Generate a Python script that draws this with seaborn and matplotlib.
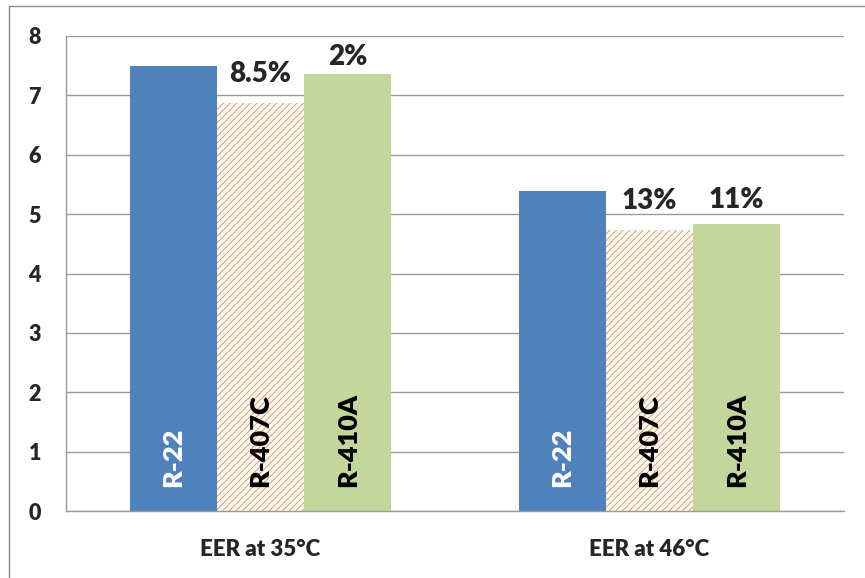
import matplotlib
matplotlib.use("Agg")
import matplotlib.pyplot as plt
from matplotlib.patches import Rectangle
import seaborn as sns
import pandas as pd

# EER of three refrigerants at two outdoor temperatures
conditions = ["EER at 35°C", "EER at 46°C"]
refrigerants = ["R-22", "R-407C", "R-410A"]
eer_r22 = [7.50, 5.39]
eer_r407c = [6.87, 4.74]
eer_r410a = [7.36, 4.83]

# drop relative to R-22, printed above the alternative refrigerants
drop_r407c = ["8.5%", "13%"]
drop_r410a = ["2%", "11%"]

y_ticks = [0, 1, 2, 3, 4, 5, 6, 7, 8]

df = pd.DataFrame({
    "condition": conditions * 3,
    "refrigerant": [r for r in refrigerants for _ in conditions],
    "eer": eer_r22 + eer_r407c + eer_r410a,
})

sns.set_style("white")
plt.rcParams["font.family"] = ["Lato", "DejaVu Sans"]
plt.rcParams["hatch.linewidth"] = 0.6

grey = "#9a9a9a"
palette = {"R-22": "#4f81bd", "R-407C": "#fef7ef", "R-410A": "#c3d69b"}
weight = "heavy"

fig = plt.figure(figsize=(8.65, 5.78), dpi=100)
W, H = 865, 578
ax = fig.add_axes([66 / W, 1 - 511 / H, (844 - 66) / W, (511 - 36) / H])

sns.barplot(data=df, x="condition", y="eer", hue="refrigerant",
            order=conditions, hue_order=refrigerants, palette=palette,
            width=0.672, gap=0, saturation=1, errorbar=None,
            legend=False, ax=ax)

# plain fills for the solid bars, diagonal stripes for R-407C
for i, cont in enumerate(ax.containers):
    for bar in cont:
        bar.set_linewidth(0)
        if i == 1:
            bar.set_edgecolor("#d49460")
            bar.set_hatch("/////")

# refrigerant names written up the inside of each bar
name_colors = ["white", "black", "black"]
for cont, name, col in zip(ax.containers, refrigerants, name_colors):
    for bar in cont:
        ax.text(bar.get_x() + bar.get_width() / 2, 0.40, name,
                rotation=90, ha="center", va="bottom", color=col,
                fontsize=19.5, fontweight=weight)

# percentage labels above the alternatives (offset in pixels above bar top)
offsets_r407c = [21, 21]
offsets_r410a = [9, 16]
for cont, labels, offs in ((ax.containers[1], drop_r407c, offsets_r407c),
                           (ax.containers[2], drop_r410a, offsets_r410a)):
    for bar, lab, off in zip(cont, labels, offs):
        ax.annotate(lab, xy=(bar.get_x() + bar.get_width() / 2, bar.get_height()),
                    xytext=(0, off), textcoords="offset pixels",
                    ha="center", va="baseline", fontsize=20, fontweight=weight)

ax.set_xlim(-0.5, 1.5)
ax.set_ylim(0, 8)
ax.set_yticks(y_ticks)
ax.set_xlabel("")
ax.set_ylabel("")

ax.yaxis.grid(True, color=grey, linewidth=1.0)
ax.set_axisbelow(True)
for side in ("top", "right"):
    ax.spines[side].set_visible(False)
for side in ("left", "bottom"):
    ax.spines[side].set_color(grey)
    ax.spines[side].set_linewidth(1.0)

ax.tick_params(axis="y", length=6, width=1, color=grey, pad=12,
               labelsize=15.5)
for lab in ax.get_yticklabels():
    lab.set_fontweight(weight)

ax.set_xticks([-0.5, 0.5, 1.5], minor=True)
ax.tick_params(axis="x", which="minor", length=7.5, width=1, color=grey)
ax.tick_params(axis="x", which="major", length=0, pad=20, labelsize=16)
for lab in ax.get_xticklabels():
    lab.set_fontweight(weight)

# chart frame
fig.add_artist(Rectangle((9 / W, -0.05), 1.2, (1 - 5.7 / H) + 0.05,
                         transform=fig.transFigure, fill=False,
                         edgecolor="#8c8c8c", linewidth=1.0))

fig.savefig("out.png", dpi=100)
